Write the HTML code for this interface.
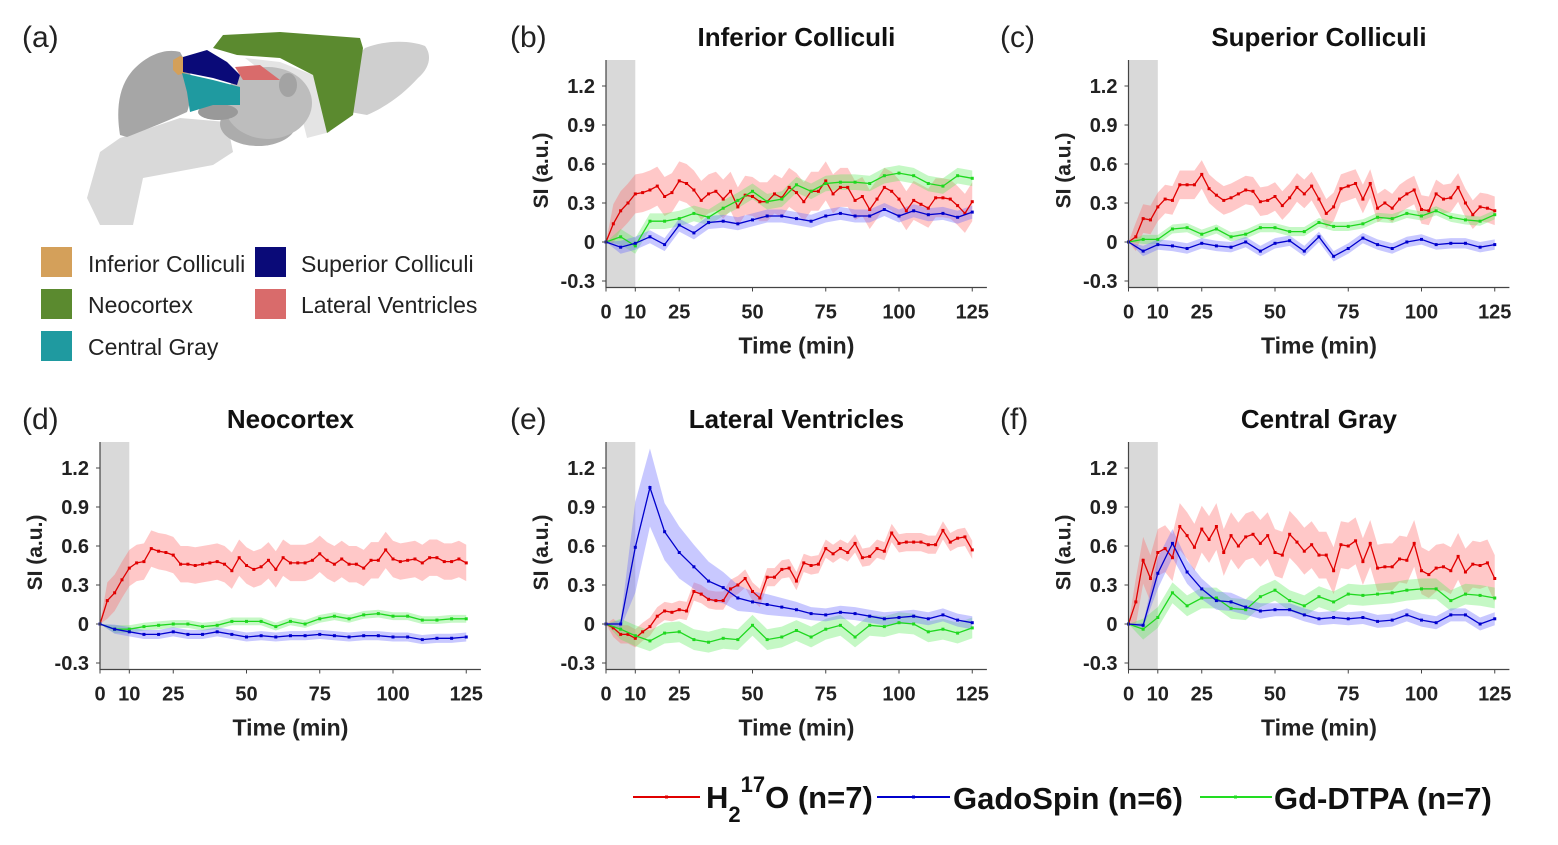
<!DOCTYPE html>
<html><head><meta charset="utf-8">
<style>
body{margin:0;background:#fff;}
svg{display:block;font-family:"Liberation Sans",Arial,sans-serif;}
</style></head>
<body>
<svg id="fig" width="1558" height="845" viewBox="0 0 1558 845" xmlns="http://www.w3.org/2000/svg">
<rect width="1558" height="845" fill="#fff"/>
<g>
<text x="22" y="47" font-size="30" fill="#222">(a)</text>
<polygon fill="#d9d9d9" points="87,198 100,152 120,138 180,118 227,122 233,152 213,165 143,178 133,225 100,225"/>
<path fill="#a6a6a6" d="M120,135 C116,110 118,85 135,68 C148,55 165,48 180,52 L190,70 C192,90 190,105 187,112 C165,122 145,130 127,137 Z"/>
<path fill="#cfcfcf" d="M350,112 C352,85 352,60 365,48 C385,40 410,40 425,46 C432,55 430,68 418,78 C405,92 390,105 367,115 Z"/>
<polygon fill="#e4e4e4" points="245,58 280,62 313,75 330,132 307,138 297,98"/>
<ellipse cx="258" cy="124" rx="38" ry="22" fill="#acacac"/>
<ellipse cx="268" cy="103" rx="44" ry="36" fill="#bdbdbd"/>
<ellipse cx="218" cy="112" rx="20" ry="8" fill="#999"/>
<ellipse cx="288" cy="85" rx="9" ry="12" fill="#a3a3a3"/>
<polygon fill="#5b8a2f" points="213,48 223,35 280,32 360,38 363,48 353,115 327,133 313,75 280,58 237,55"/>
<polygon fill="#d4a05a" points="173,60 180,56 185,58 185,73 178,75 173,70"/>
<polygon fill="#0a0a78" points="183,57 207,50 227,62 240,75 237,85 213,78 183,72"/>
<polygon fill="#1f9aa0" points="182,73 213,80 240,87 240,105 213,105 190,112 187,92"/>
<polygon fill="#d96b6b" points="235,67 260,65 280,80 243,80"/>
</g>
<g font-size="23" fill="#222">
<rect x="41" y="247" width="31" height="30" fill="#d4a05a"/>
<text x="88" y="272">Inferior Colliculi</text>
<rect x="41" y="289" width="31" height="30" fill="#5b8a2f"/>
<text x="88" y="313">Neocortex</text>
<rect x="41" y="331" width="31" height="30" fill="#1f9aa0"/>
<text x="88" y="355">Central Gray</text>
<rect x="255" y="247" width="31" height="30" fill="#0a0a78"/>
<text x="301" y="272">Superior Colliculi</text>
<rect x="255" y="289" width="31" height="30" fill="#d96b6b"/>
<text x="301" y="313">Lateral Ventricles</text>
</g>
<g font-size="31" font-weight="bold" fill="#111">
<line x1="633" y1="797" x2="700" y2="797" stroke="#e00000" stroke-width="2"/>
<rect x="665" y="795.5" width="3" height="3" fill="#e00000"/>
<text x="706" y="808">H<tspan font-size="22" dy="14">2</tspan><tspan font-size="22" dy="-30">17</tspan><tspan dy="16">O (n=7)</tspan></text>
<line x1="877" y1="797" x2="950" y2="797" stroke="#0000cc" stroke-width="2"/>
<rect x="912" y="795.5" width="3" height="3" fill="#0000cc"/>
<text x="953" y="809">GadoSpin (n=6)</text>
<line x1="1200" y1="797" x2="1272" y2="797" stroke="#22dd22" stroke-width="2"/>
<rect x="1234" y="795.5" width="3" height="3" fill="#22dd22"/>
<text x="1274" y="809">Gd-DTPA (n=7)</text>
</g>
</svg>
<script>
// time grids
const tRed = []; for (let i = 0; i <= 50; i++) tRed.push(i * 2.5);
const tBG = []; for (let i = 0; i <= 25; i++) tBG.push(i * 5);
const yTicks = [1.2, 0.9, 0.6, 0.3, 0, -0.3];
const yTickLabels = ["1.2", "0.9", "0.6", "0.3", "0", "-0.3"];
const xTicks = [0, 10, 25, 50, 75, 100, 125];
const xTickLabels = ["0", "10", "25", "50", "75", "100", "125"];

// Panel b: Inferior Colliculi
const bRed = [0,0.14,0.24,0.30,0.37,0.38,0.40,0.43,0.35,0.38,0.47,0.45,0.40,0.32,0.37,0.39,0.33,0.39,0.27,0.36,0.35,0.31,0.31,0.37,0.34,0.42,0.38,0.31,0.39,0.39,0.47,0.37,0.42,0.42,0.32,0.35,0.25,0.33,0.42,0.39,0.33,0.24,0.32,0.29,0.26,0.34,0.34,0.33,0.28,0.22,0.31];
const bBlue = [0,-0.04,-0.01,0.04,-0.02,0.13,0.07,0.15,0.16,0.14,0.17,0.20,0.20,0.18,0.16,0.20,0.22,0.20,0.20,0.25,0.20,0.24,0.21,0.22,0.19,0.23];
const bGreen = [0,0.04,-0.03,0.16,0.16,0.18,0.22,0.19,0.26,0.32,0.39,0.31,0.33,0.44,0.39,0.45,0.46,0.46,0.45,0.51,0.53,0.51,0.45,0.43,0.51,0.49];
// Panel c: Superior Colliculi
const cRed = [0,0.04,0.18,0.17,0.27,0.33,0.32,0.44,0.44,0.44,0.52,0.41,0.36,0.32,0.34,0.37,0.40,0.39,0.31,0.32,0.35,0.28,0.34,0.42,0.37,0.43,0.33,0.22,0.27,0.41,0.43,0.45,0.33,0.45,0.26,0.30,0.26,0.33,0.37,0.40,0.25,0.24,0.37,0.33,0.34,0.42,0.30,0.21,0.27,0.26,0.24];
const cBlue = [0,-0.07,-0.02,-0.03,-0.05,-0.01,-0.03,-0.04,0.00,-0.07,-0.01,0.01,-0.07,0.04,-0.11,-0.05,0.03,-0.02,-0.05,0.00,0.02,-0.02,-0.01,-0.01,-0.04,-0.02];
const cGreen = [0,0.02,0.02,0.10,0.11,0.06,0.10,0.04,0.06,0.11,0.11,0.08,0.08,0.15,0.12,0.12,0.14,0.19,0.18,0.22,0.20,0.24,0.19,0.17,0.16,0.21];
// Panel d: Neocortex
const dRed = [0,0.18,0.24,0.34,0.43,0.47,0.48,0.58,0.56,0.55,0.53,0.46,0.46,0.45,0.46,0.47,0.48,0.46,0.41,0.51,0.45,0.42,0.44,0.49,0.42,0.51,0.47,0.47,0.47,0.49,0.54,0.49,0.46,0.50,0.46,0.46,0.43,0.49,0.49,0.57,0.50,0.48,0.49,0.50,0.47,0.51,0.51,0.48,0.48,0.50,0.47];
const dBlue = [0,-0.04,-0.06,-0.08,-0.08,-0.06,-0.08,-0.08,-0.06,-0.08,-0.10,-0.09,-0.10,-0.09,-0.09,-0.08,-0.09,-0.10,-0.09,-0.09,-0.10,-0.10,-0.12,-0.11,-0.11,-0.10];
const dGreen = [0,-0.04,-0.04,-0.02,-0.01,0,0,-0.02,-0.01,0.02,0.02,0.02,-0.02,0.02,0,0.04,0.06,0.04,0.07,0.08,0.06,0.06,0.03,0.03,0.04,0.04];
// Panel e: Lateral Ventricles
const eRed = [0,-0.03,-0.08,-0.08,-0.11,-0.06,-0.02,0.06,0.10,0.09,0.11,0.10,0.25,0.23,0.19,0.18,0.18,0.27,0.30,0.35,0.25,0.20,0.36,0.36,0.42,0.43,0.33,0.47,0.45,0.46,0.58,0.54,0.58,0.55,0.62,0.51,0.52,0.58,0.56,0.70,0.62,0.63,0.63,0.63,0.61,0.61,0.72,0.63,0.66,0.67,0.57];
const eBlue = [0,0,0.59,1.05,0.71,0.55,0.44,0.33,0.28,0.20,0.17,0.15,0.13,0.11,0.08,0.07,0.09,0.08,0.06,0.04,0.05,0.06,0.04,0.07,0.03,0.01];
const eGreen = [0,-0.04,-0.09,-0.13,-0.07,-0.06,-0.12,-0.14,-0.11,-0.12,-0.01,-0.12,-0.10,-0.05,-0.10,-0.04,-0.01,-0.10,-0.01,-0.02,0.01,0.00,-0.06,-0.04,-0.07,-0.03];
// Panel f: Central Gray
const fRed = [0,0.17,0.49,0.35,0.55,0.58,0.51,0.75,0.68,0.59,0.73,0.65,0.75,0.55,0.68,0.60,0.67,0.69,0.62,0.68,0.55,0.53,0.69,0.63,0.56,0.61,0.53,0.53,0.41,0.61,0.60,0.64,0.48,0.62,0.43,0.44,0.44,0.50,0.49,0.62,0.41,0.38,0.43,0.44,0.41,0.52,0.40,0.46,0.45,0.47,0.35];
const fBlue = [0,-0.01,0.39,0.62,0.40,0.27,0.18,0.17,0.13,0.10,0.11,0.11,0.07,0.04,0.05,0.04,0.05,0.02,0.03,0.07,0.03,0.01,0.07,0.07,0.00,0.04];
const fGreen = [0,-0.04,0.05,0.24,0.14,0.20,0.20,0.12,0.11,0.21,0.26,0.18,0.14,0.21,0.17,0.23,0.22,0.23,0.24,0.26,0.27,0.27,0.18,0.23,0.22,0.20];
// band half-widths (SEM)
const eBlueSd = [0,0.03,0.35,0.3,0.22,0.2,0.17,0.15,0.12,0.1,0.08,0.08,0.07,0.06,0.05,0.05,0.05,0.05,0.05,0.05,0.05,0.05,0.05,0.05,0.05,0.05];
const fBlueSd = [0,0.02,0.12,0.11,0.09,0.08,0.07,0.07,0.06,0.06,0.05,0.05,0.05,0.05,0.05,0.05,0.05,0.05,0.05,0.05,0.05,0.05,0.05,0.05,0.05,0.05];

const panels = [
 {id:"b", title:"Inferior Colliculi", x0:606, y0:242, lx:510, red:bRed, blue:bBlue, green:bGreen, rs:0.15, bs:0.05, gs:0.06},
 {id:"c", title:"Superior Colliculi", x0:1128.5, y0:242, lx:1000, red:cRed, blue:cBlue, green:cGreen, rs:0.11, bs:0.04, gs:0.035},
 {id:"d", title:"Neocortex", x0:100, y0:624, lx:22, red:dRed, blue:dBlue, green:dGreen, rs:0.14, bs:0.035, gs:0.03},
 {id:"e", title:"Lateral Ventricles", x0:606, y0:624, lx:510, red:eRed, blue:eBlue, green:eGreen, rs:0.07, bs:eBlueSd, gs:0.08},
 {id:"f", title:"Central Gray", x0:1128.5, y0:624, lx:1000, red:fRed, blue:fBlue, green:fGreen, rs:0.18, bs:fBlueSd, gs:0.08}
];
const PXM = 2.93, PXU = 130, YMAX = 1.4, YMIN = -0.35, XMAX = 130;
const NS = "http://www.w3.org/2000/svg";
const svg = document.getElementById("fig");
function mk(tag, attrs, parent) {
  const e = document.createElementNS(NS, tag);
  for (const k in attrs) e.setAttribute(k, attrs[k]);
  parent.appendChild(e);
  return e;
}
panels.forEach(p => {
  const sx = t => p.x0 + t * PXM;
  const sy = v => p.y0 - v * PXU;
  const g = mk("g", {}, svg);
  
  
  const top = sy(YMAX), bot = sy(YMIN), right = sx(XMAX);
  const sh = mk("rect", {x: sx(0), y: top, width: sx(10) - sx(0), height: bot - top, fill: "#d9d9d9"}, g);
  
  
  const series = [
    {name:"h2o", vals:p.red, t:tRed, sd:p.rs, line:"#e00000", band:"rgba(255,110,110,0.38)"},
    {name:"gd-dtpa", vals:p.green, t:tBG, sd:p.gs, line:"#1fd81f", band:"rgba(90,235,90,0.35)"},
    {name:"gadospin", vals:p.blue, t:tBG, sd:p.bs, line:"#0000cc", band:"rgba(110,110,255,0.38)"}
  ];
  series.forEach(s => {
    const sdAt = i => i === 0 ? 0 : (Array.isArray(s.sd) ? s.sd[i] : s.sd);
    let up = [], dn = [];
    s.vals.forEach((v, i) => { up.push(sx(s.t[i]) + "," + sy(v + sdAt(i))); dn.unshift(sx(s.t[i]) + "," + sy(v - sdAt(i))); });
    const band = mk("polygon", {points: up.concat(dn).join(" "), fill: s.band}, g);
    
    
  });
  series.forEach(s => {
    const pts = s.vals.map((v, i) => sx(s.t[i]) + "," + sy(v)).join(" ");
    const ln = mk("polyline", {points: pts, fill: "none", stroke: s.line, "stroke-width": 1.3}, g);
    
    
    s.vals.forEach((v, i) => {
      const m = mk("rect", {x: sx(s.t[i]) - 1.5, y: sy(v) - 1.5, width: 3, height: 3, fill: s.line}, g);
      
      
    });
  });
  // axes
  const ax = mk("path", {d: `M${sx(0)},${top} L${sx(0)},${bot} L${right},${bot}`, fill: "none", stroke: "#444", "stroke-width": 1.2}, g);
  
  
  yTicks.forEach((v, i) => {
    mk("line", {x1: sx(0) - 4, x2: sx(0), y1: sy(v), y2: sy(v), stroke: "#444"}, g);
    const t = mk("text", {x: sx(0) - 11, y: sy(v) + 7, "text-anchor": "end", "font-size": 20, "font-weight": "bold", fill: "#222"}, g);
    t.textContent = yTickLabels[i];
    
    
  });
  xTicks.forEach((v, i) => {
    mk("line", {x1: sx(v), x2: sx(v), y1: bot, y2: bot + 4, stroke: "#444"}, g);
    const t = mk("text", {x: sx(v), y: bot + 31, "text-anchor": "middle", "font-size": 20, "font-weight": "bold", fill: "#222"}, g);
    t.textContent = xTickLabels[i];
    
    
  });
  const xl = mk("text", {x: sx(65), y: bot + 66, "text-anchor": "middle", "font-size": 23, "font-weight": "bold", fill: "#222"}, g);
  xl.textContent = "Time (min)";
  
  
  const yx = sx(0) - 58, yy = sy(0.55);
  const yl = mk("text", {x: yx, y: yy, "text-anchor": "middle", "font-size": 21, "font-weight": "bold", fill: "#222", transform: `rotate(-90 ${yx} ${yy})`}, g);
  yl.textContent = "SI (a.u.)";
  
  
  const ti = mk("text", {x: sx(65), y: top - 14, "text-anchor": "middle", "font-size": 26, "font-weight": "bold", fill: "#111"}, g);
  ti.textContent = p.title;
  
  
  const pl = mk("text", {x: p.lx, y: top - 13, "font-size": 30, fill: "#222"}, g);
  pl.textContent = "(" + p.id + ")";
  
  
});
</script>
</body></html>
